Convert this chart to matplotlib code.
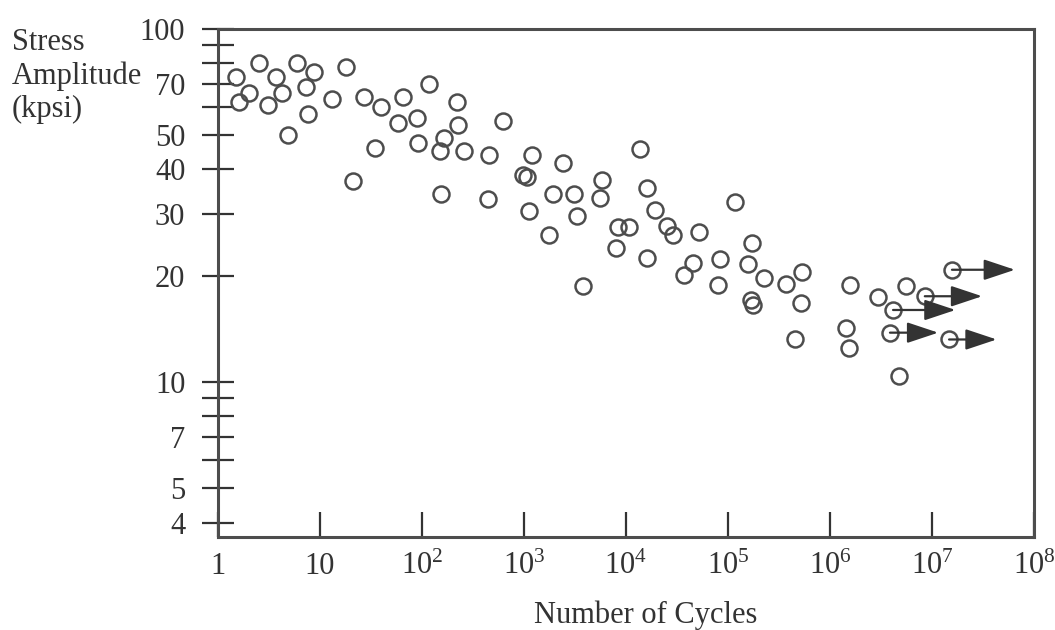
"""S-N scatter: stress amplitude vs number of cycles, with run-out arrows."""
import matplotlib
matplotlib.use("Agg")
import matplotlib.pyplot as plt
from matplotlib.ticker import FixedLocator, FixedFormatter, NullLocator

# failed specimens
cycles = [1.5, 2.5, 3.7, 6.0, 8.7, 18, 2.0, 1.6, 3.1, 4.2, 7.3, 7.6, 4.9, 13,
          27, 40, 65, 117, 58, 89, 220, 225, 620, 35, 91, 164, 150, 258, 454,
          21, 153, 444, 1200, 2400, 980, 1070, 5800, 13700, 1920, 3090, 5560,
          16000, 1120, 3300, 19200, 117000, 1760, 8350, 10700, 25200, 28900,
          52000, 8000, 16000, 3800, 45400, 37000, 83500, 80000, 172000,
          157000, 226000, 168000, 176000, 370000, 530000, 520000, 454000,
          1.57e6, 1.43e6, 1.54e6, 2.96e6, 5.56e6, 4.75e6]
stress = [73, 80, 73, 80, 75.5, 78, 66, 62, 61, 66, 68.5, 57.5, 50, 63.5,
          64, 60, 64, 70, 54, 56, 62, 53.5, 55, 46, 47.5, 49, 45, 45, 44,
          37, 34, 33, 44, 41.7, 38.6, 38.1, 37.3, 45.7, 34.1, 34.1, 33.2,
          35.4, 30.5, 29.5, 30.7, 32.4, 26.1, 27.5, 27.5, 27.7, 26.1,
          26.6, 24.0, 22.5, 18.7, 21.7, 20.1, 22.3, 18.8, 24.8,
          21.6, 19.7, 17.1, 16.5, 18.9, 20.5, 16.7, 13.2,
          18.8, 14.2, 12.5, 17.4, 18.7, 10.4]

# run-outs (no failure), arrow drawn to runout_end
runout_cycles = [8.5e6, 4.15e6, 3.87e6, 1.57e7, 1.47e7]
runout_stress = [17.5, 16.0, 13.8, 20.8, 13.2]
runout_end = [3.1e7, 1.7e7, 1.15e7, 6.5e7, 4.3e7]

x_ticks = [1, 10, 1e2, 1e3, 1e4, 1e5, 1e6, 1e7, 1e8]
x_labels = ["1", "10"] + [r"$\mathregular{10^{%d}}$" % k for k in range(2, 9)]
y_ticks = [100, 90, 80, 70, 60, 50, 40, 30, 20, 10, 9, 8, 7, 6, 5, 4]
y_labels = ["100", "", "", "70", "", "50", "40", "30", "20", "10", "", "",
            "7", "", "5", "4"]

INK = "#333333"
GRAY = "#4d4d4d"

plt.rcParams["font.family"] = ["Liberation Serif", "DejaVu Serif"]
plt.rcParams["mathtext.fontset"] = "custom"
plt.rcParams["mathtext.rm"] = "Liberation Serif"
plt.rcParams["font.size"] = 22

fig = plt.figure(figsize=(10.55, 6.3), dpi=100)
ax = fig.add_axes([218 / 1055, 1 - 537 / 630, (1034 - 218) / 1055, (537 - 29) / 630])
ax.set_xscale("log")
ax.set_yscale("log")
ax.set_xlim(1, 1e8)
ax.set_ylim(3.64, 100)

ax.plot(cycles, stress, "o", ms=11.5, mfc="none", mec=GRAY, mew=1.8)
ax.plot(runout_cycles, runout_stress, "o", ms=11.5, mfc="none", mec=GRAY, mew=1.8)
for c, s, e in zip(runout_cycles, runout_stress, runout_end):
    ax.annotate("", xy=(e, s), xytext=(c, s),
                arrowprops=dict(arrowstyle="-|>,head_length=1.2,head_width=0.4",
                                color=INK, lw=1.6, mutation_scale=16,
                                shrinkA=0, shrinkB=0))

ax.xaxis.set_major_locator(FixedLocator(x_ticks))
ax.xaxis.set_major_formatter(FixedFormatter(x_labels))
ax.xaxis.set_minor_locator(NullLocator())
ax.yaxis.set_major_locator(FixedLocator(y_ticks))
ax.yaxis.set_major_formatter(FixedFormatter(y_labels))
ax.yaxis.set_minor_locator(NullLocator())
ax.tick_params(axis="x", direction="in", length=18, width=1.6, color=INK,
               pad=11, labelcolor=INK, labelsize=22)
ax.tick_params(axis="y", direction="inout", length=23, width=1.6, color=INK,
               pad=12, labelcolor=INK, labelsize=22)
for sp in ax.spines.values():
    sp.set_color(GRAY)
    sp.set_linewidth(2.2)

fig.text(12 / 1055, 1 - 76 / 630, "Stress\nAmplitude\n(kpsi)", ha="left",
         va="center", color=INK, fontsize=22, linespacing=1.2)
fig.text(646 / 1055, 1 - 615 / 630, "Number of Cycles", ha="center",
         va="center", color=INK, fontsize=22)

fig.savefig("out.png", dpi=100)
